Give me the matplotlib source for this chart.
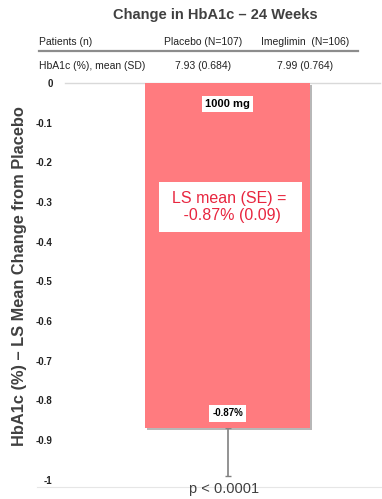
import matplotlib
matplotlib.use("Agg")
import matplotlib.pyplot as plt
import matplotlib.patheffects as pe
from matplotlib.lines import Line2D
from matplotlib.patches import Rectangle

# Data
categories = ["1000 mg"]
ls_mean_change = [-0.87]
lower_err = [0.12]
yticks = [0, -0.1, -0.2, -0.3, -0.4, -0.5, -0.6, -0.7, -0.8, -0.9, -1]
ytick_labels = ["0", "-0.1", "-0.2", "-0.3", "-0.4", "-0.5", "-0.6", "-0.7", "-0.8", "-0.9", "-1"]
table_cols = ["Patients (n)", "Placebo (N=107)", "Imeglimin  (N=106)"]
table_row = ["HbA1c (%), mean (SD)", "7.93 (0.684)", "7.99 (0.764)"]

W, H = 382, 499
fig = plt.figure(figsize=(W / 100, H / 100), dpi=100)
plt.rcParams['font.family'] = ['Liberation Sans', 'DejaVu Sans']

def fx(px):
    return px / W

def fy(py):
    return 1 - py / H

# axes: y=0 at 83px, y=-1.018 at 487px
ax = fig.add_axes([fx(65), fy(487), fx(380) - fx(65), fy(83) - fy(487)])
ax.set_ylim(-1.018, 0)
ax.set_xlim(-0.789, 0.740)

bar_color = "#ff7b7f"
ax.bar(range(len(categories)), ls_mean_change, width=0.8, color=bar_color, zorder=3,
       path_effects=[pe.SimplePatchShadow(offset=(1.5, -1.5), shadow_rgbFace="#888888", alpha=0.6),
                     pe.Normal()])
ax.errorbar(range(len(categories)), ls_mean_change, yerr=[lower_err, [0]], fmt="none",
            ecolor="#808080", elinewidth=1.2, capsize=2, capthick=1, zorder=2)

ax.set_yticks(yticks)
ax.set_yticklabels(ytick_labels, fontsize=7, fontweight="bold", color="#222222")
ax.tick_params(axis="y", length=0, pad=9)
ax.set_xticks([])
for s in ["left", "right", "bottom"]:
    ax.spines[s].set_visible(False)
ax.spines["top"].set_color("#d9d9d9")
ax.spines["top"].set_linewidth(1)

# bottom baseline
fig.add_artist(Line2D([fx(37), fx(382)], [fy(487), fy(487)], color="#e6e6e6", lw=0.8))

# labels inside the bar
x0 = 0
ax.text(x0, -0.053, categories[0], ha="center", va="center", fontsize=8, fontweight="bold",
        color="black", zorder=5,
        bbox=dict(boxstyle="square,pad=0.3", fc="white", ec="none"))
ax.add_patch(Rectangle((-0.333, -0.375), 0.695, 0.126, fc="white", ec="none", zorder=4))
ax.text(0.01, -0.312, "LS mean (SE) =\n -0.87% (0.09)", ha="center", va="center", fontsize=11.5,
        color="#e8263f", zorder=5, linespacing=1.15)
ax.text(x0, ls_mean_change[0] + 0.038, f"{ls_mean_change[0]:.2f}%", ha="center", va="center",
        fontsize=7, fontweight="bold", color="black", zorder=5,
        bbox=dict(boxstyle="square,pad=0.35", fc="white", ec="none"))

# p-value
fig.text(fx(224), fy(489), "p < 0.0001", ha="center", va="center", fontsize=10.5, color="#404040")

# title and header table
fig.text(fx(215), fy(15), "Change in HbA1c \u2013 24 Weeks", ha="center", va="center",
         fontsize=10.5, fontweight="bold", color="#404040")
hdr_y, row_y = fy(42), fy(66)
fig.text(fx(39), hdr_y, table_cols[0], ha="left", va="center", fontsize=7.5, color="#222222")
fig.text(fx(203), hdr_y, table_cols[1], ha="center", va="center", fontsize=7.5, color="#222222")
fig.text(fx(305), hdr_y, table_cols[2], ha="center", va="center", fontsize=7.5, color="#222222")
fig.add_artist(Line2D([fx(39), fx(358)], [fy(51), fy(51)], color="#8c8c8c", lw=1.6))
fig.text(fx(39), row_y, table_row[0], ha="left", va="center", fontsize=7.5, color="#222222")
fig.text(fx(203), row_y, table_row[1], ha="center", va="center", fontsize=7.5, color="#222222")
fig.text(fx(305), row_y, table_row[2], ha="center", va="center", fontsize=7.5, color="#222222")

# y-axis title
fig.text(fx(20), fy(276), "HbA1c (%) \u2013 LS Mean Change from Placebo", rotation=90,
         ha="center", va="center", fontsize=11.8, fontweight="bold", color="#404040")

fig.savefig("out.png", dpi=100)
